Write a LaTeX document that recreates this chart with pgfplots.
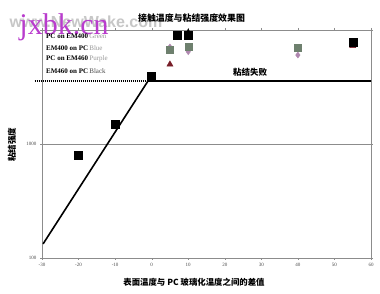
\documentclass[border=0pt]{standalone}
\usepackage{fontspec}
\setmainfont{Liberation Serif}
\newfontfamily\cjk{Noto Sans CJK SC}
\newfontfamily\sansf{Liberation Sans}
\usepackage{pgfplots}
\pgfplotsset{compat=1.18}
\definecolor{grn}{RGB}{110,128,110}
\definecolor{pur}{RGB}{175,135,175}
\definecolor{dred}{RGB}{120,30,40}
\definecolor{wm}{RGB}{185,60,205}
\begin{document}
\begin{tikzpicture}[x=1pt,y=1pt]
\useasboundingbox (0,0) rectangle (380,294);
\fill[white] (0,0) rectangle (380,294);
\begin{axis}[
 at={(42pt,36pt)}, anchor=south west,
 scale only axis, width=329pt, height=228pt,
 xmin=-30, xmax=60, ymin=100, ymax=10000, ymode=log,
 xtick={-30,-20,...,60},
 ytick={100,1000,10000}, yticklabels={100,1000,{}},
 yminorticks=false,
 axis line style={black!45, line width=0.8pt},
 ymajorgrids, grid style={black!45, line width=0.6pt},
 tick align=outside, major tick length=2pt,
 tick style={black!45},
 ticklabel style={font=\fontsize{5}{6}\selectfont, text=black!70},
 /pgf/number format/assume math mode=true,
 clip=false,
]
\addplot[black, line width=1.6pt] coordinates {(-29.7,133) (-1,3570) (60,3570)};
\addplot[black, line width=1.5pt, dash pattern=on 1pt off 1pt] coordinates {(-32,3570) (6.5,3570)};
\addplot[only marks, mark=diamond*, mark size=3pt, pur] coordinates {(5,7100) (10,6450) (40,6030)};
\addplot[only marks, mark=square*, mark size=3.5pt, grn] coordinates {(5,6750) (10,7130) (40,7000)};
\addplot[only marks, mark=triangle*, mark size=3.5pt, dred] coordinates {(5,5000) (55,7250)};
\addplot[only marks, mark=triangle*, mark size=2.5pt, black] coordinates {(10,9700)};
\addplot[only marks, mark=square*, mark size=4pt, black] coordinates {(-20,800) (-10,1500) (0,3900) (7,9000) (10,9000) (55,7770)};
\end{axis}
% watermarks
\node[text=black!22, font=\sansf\bfseries\fontsize{16}{18}\selectfont] at (86,272) {www.NewWake.com};
\node[text=wm, font=\fontsize{30}{32}\selectfont] at (64,267) {jxbk.cn};
% title
\node[font=\cjk\bfseries\fontsize{8.9}{10}\selectfont] at (191.5,276) {接触温度与粘结强度效果图};
% legend (text only)
\node[anchor=west, inner sep=0pt, font=\bfseries\fontsize{7}{8}\selectfont] at (46,257.3) {PC on EM400\,{\mdseries\color{black!40}Green}};
\node[anchor=west, inner sep=0pt, font=\bfseries\fontsize{7}{8}\selectfont] at (46,246.3) {EM400 on PC\,{\mdseries\color{black!40}Blue}};
\node[anchor=west, inner sep=0pt, font=\bfseries\fontsize{7}{8}\selectfont] at (46,234.7) {PC on EM460\,{\mdseries\color{black!40}Purple}};
\node[anchor=west, inner sep=0pt, font=\bfseries\fontsize{7}{8}\selectfont] at (46,223.3) {EM460 on PC\,{\mdseries\color{black!70}Black}};
% annotation
\node[font=\cjk\bfseries\fontsize{8.5}{10}\selectfont] at (250,222) {粘结失败};
% axis labels
\node[font=\cjk\bfseries\fontsize{8.4}{10}\selectfont] at (194,12) {表面温度与 PC 玻璃化温度之间的差值};
\node[rotate=90, font=\cjk\bfseries\fontsize{8.5}{10}\selectfont] at (12,149) {粘结强度};
\end{tikzpicture}
\end{document}
